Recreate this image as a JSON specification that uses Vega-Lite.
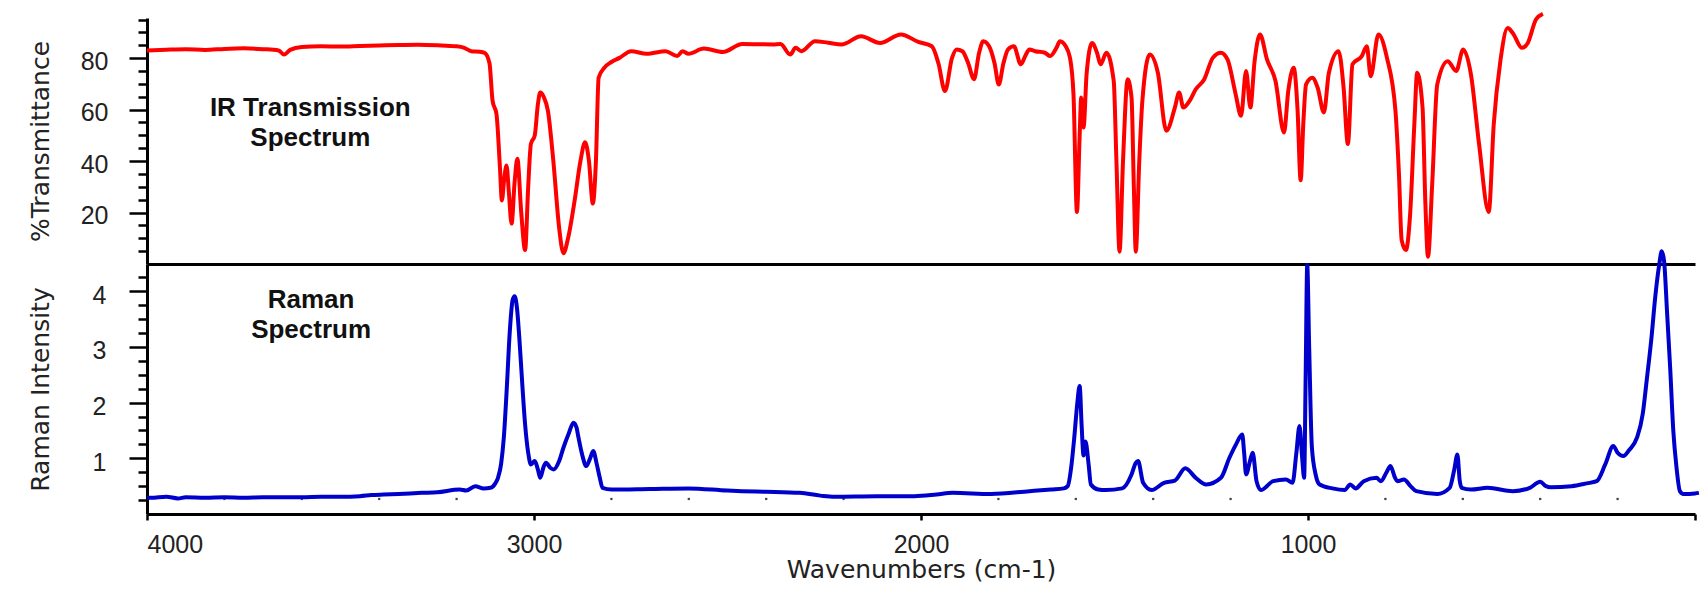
{
  "$schema": "https://vega.github.io/schema/vega-lite/v6.json",
  "background": "white",
  "padding": {"left": 28, "top": 11, "right": 5, "bottom": 5},
  "bounds": "flush",
  "spacing": 0,
  "config": {
    "view": {"stroke": null},
    "axis": {
      "domainColor": "black", "tickColor": "black", "domainWidth": 3, "tickWidth": 2.5,
      "labelFont": "Liberation Sans", "labelFontSize": 25, "labelColor": "#222",
      "titleFont": "DejaVu Sans", "titleFontSize": 25, "titleFontWeight": "normal", "titleColor": "#222",
      "grid": false
    }
  },
  "datasets": {
    "ir": [
      {"wn":4000,"v":83.0},{"wn":3950,"v":83.3},{"wn":3900,"v":83.5},{"wn":3850,"v":83.2},{"wn":3800,"v":83.6},
      {"wn":3750,"v":83.8},{"wn":3700,"v":83.5},{"wn":3660,"v":83.0},{"wn":3646,"v":81.4},{"wn":3630,"v":83.2},
      {"wn":3600,"v":84.3},{"wn":3550,"v":84.6},{"wn":3500,"v":84.5},{"wn":3450,"v":84.7},{"wn":3400,"v":84.9},
      {"wn":3350,"v":85.1},{"wn":3300,"v":85.2},{"wn":3250,"v":85.0},{"wn":3200,"v":84.6},{"wn":3180,"v":84.0},
      {"wn":3162,"v":82.7},{"wn":3140,"v":82.5},{"wn":3127,"v":82.0},{"wn":3115,"v":78},{"wn":3107,"v":63.4},
      {"wn":3097,"v":58.3},{"wn":3088,"v":37.5},{"wn":3083,"v":24.7},{"wn":3077,"v":33},{"wn":3071,"v":38.3},
      {"wn":3065,"v":28},{"wn":3058,"v":15.7},{"wn":3050,"v":32},{"wn":3043,"v":40.9},{"wn":3033,"v":20},
      {"wn":3023,"v":5.4},{"wn":3015,"v":30},{"wn":3008,"v":46.7},{"wn":2998,"v":50},{"wn":2990,"v":62},
      {"wn":2984,"v":66.6},{"wn":2975,"v":65},{"wn":2964,"v":59.5},{"wn":2950,"v":40},{"wn":2935,"v":14},
      {"wn":2924,"v":4.2},{"wn":2912,"v":10},{"wn":2895,"v":24.7},{"wn":2880,"v":40},{"wn":2868,"v":47.3},
      {"wn":2858,"v":40},{"wn":2848,"v":23.5},{"wn":2840,"v":40},{"wn":2833,"v":72.4},{"wn":2818,"v":76.3},
      {"wn":2800,"v":78.5},{"wn":2779,"v":80.1},{"wn":2749,"v":82.7},{"wn":2709,"v":81.7},{"wn":2660,"v":82.7},
      {"wn":2630,"v":80.8},{"wn":2616,"v":82.7},{"wn":2601,"v":81.7},{"wn":2561,"v":83.7},{"wn":2512,"v":82.4},
      {"wn":2462,"v":85.5},{"wn":2420,"v":85.4},{"wn":2383,"v":85.3},{"wn":2363,"v":85.5},{"wn":2338,"v":81.4},
      {"wn":2324,"v":84},{"wn":2309,"v":82.7},{"wn":2274,"v":86.6},{"wn":2240,"v":86},{"wn":2205,"v":85.3},
      {"wn":2155,"v":88.5},{"wn":2106,"v":85.9},{"wn":2052,"v":89.2},{"wn":2007,"v":86.3},{"wn":1972,"v":84.6},
      {"wn":1955,"v":78},{"wn":1938,"v":67.2},{"wn":1920,"v":80},{"wn":1908,"v":83.4},{"wn":1893,"v":82.7},
      {"wn":1878,"v":78},{"wn":1863,"v":71.8},{"wn":1850,"v":82},{"wn":1839,"v":86.6},{"wn":1824,"v":84.6},
      {"wn":1810,"v":78},{"wn":1799,"v":69.8},{"wn":1787,"v":78},{"wn":1775,"v":83.4},{"wn":1760,"v":84.6},
      {"wn":1742,"v":77.6},{"wn":1730,"v":81},{"wn":1720,"v":83.4},{"wn":1705,"v":82.7},{"wn":1680,"v":82.1},
      {"wn":1666,"v":80.8},{"wn":1650,"v":84},{"wn":1641,"v":86.6},{"wn":1626,"v":84.6},{"wn":1615,"v":80.1},
      {"wn":1606,"v":66},{"wn":1597,"v":20.2},{"wn":1590,"v":50},{"wn":1586,"v":64.7},{"wn":1580,"v":53},
      {"wn":1572,"v":74},{"wn":1558,"v":85.9},{"wn":1545,"v":82},{"wn":1536,"v":77.6},{"wn":1521,"v":82.1},
      {"wn":1502,"v":71.1},{"wn":1495,"v":40},{"wn":1487,"v":4.8},{"wn":1478,"v":40},{"wn":1466,"v":71.8},
      {"wn":1456,"v":64.7},{"wn":1450,"v":30},{"wn":1445,"v":4.8},{"wn":1436,"v":40},{"wn":1428,"v":63.4},
      {"wn":1409,"v":81.4},{"wn":1388,"v":74.3},{"wn":1366,"v":51.8},{"wn":1344,"v":60.8},{"wn":1333,"v":66.6},
      {"wn":1322,"v":60.8},{"wn":1306,"v":63.4},{"wn":1290,"v":67.9},{"wn":1268,"v":71.8},{"wn":1246,"v":80.1},
      {"wn":1225,"v":82.1},{"wn":1208,"v":79.5},{"wn":1187,"v":66},{"wn":1173,"v":57.6},{"wn":1160,"v":75},
      {"wn":1149,"v":60.8},{"wn":1138,"v":78.8},{"wn":1124,"v":89.2},{"wn":1106,"v":79.5},{"wn":1084,"v":71.1},
      {"wn":1062,"v":51.1},{"wn":1051,"v":67.2},{"wn":1037,"v":76.3},{"wn":1027,"v":60},{"wn":1019,"v":32.5},
      {"wn":1012,"v":55},{"wn":1005,"v":69.8},{"wn":989,"v":72.4},{"wn":975,"v":68.5},{"wn":959,"v":58.9},
      {"wn":946,"v":74.3},{"wn":921,"v":82.7},{"wn":908,"v":68.5},{"wn":897,"v":46.6},{"wn":885,"v":77.6},
      {"wn":861,"v":80.8},{"wn":848,"v":84.6},{"wn":838,"v":73},{"wn":818,"v":89.2},{"wn":796,"v":80.1},
      {"wn":774,"v":59.5},{"wn":765,"v":35},{"wn":758,"v":9.3},{"wn":747,"v":5.4},{"wn":736,"v":19.6},
      {"wn":725,"v":55},{"wn":718,"v":74.3},{"wn":704,"v":60.8},{"wn":697,"v":25},{"wn":690,"v":2.8},
      {"wn":679,"v":31.3},{"wn":666,"v":69.8},{"wn":639,"v":78.8},{"wn":617,"v":75},{"wn":599,"v":83.4},
      {"wn":579,"v":73.7},{"wn":558,"v":46.6},{"wn":533,"v":20.2},{"wn":520,"v":54.4},{"wn":503,"v":78.8},
      {"wn":484,"v":91.7},{"wn":471,"v":89.8},{"wn":447,"v":84},{"wn":432,"v":85.9},{"wn":411,"v":95},
      {"wn":393,"v":97.2}
    ],
    "raman": [
      {"wn":4000,"v":0.29},{"wn":3990,"v":0.29},{"wn":3950,"v":0.31},{"wn":3920,"v":0.28},{"wn":3900,"v":0.30},
      {"wn":3850,"v":0.29},{"wn":3800,"v":0.30},{"wn":3750,"v":0.29},{"wn":3700,"v":0.30},{"wn":3650,"v":0.30},
      {"wn":3600,"v":0.30},{"wn":3550,"v":0.31},{"wn":3500,"v":0.31},{"wn":3450,"v":0.32},{"wn":3420,"v":0.34},
      {"wn":3389,"v":0.35},{"wn":3350,"v":0.36},{"wn":3290,"v":0.38},{"wn":3250,"v":0.39},{"wn":3192,"v":0.44},
      {"wn":3175,"v":0.42},{"wn":3152,"v":0.50},{"wn":3130,"v":0.46},{"wn":3112,"v":0.47},{"wn":3100,"v":0.55},
      {"wn":3093,"v":0.65},{"wn":3085,"v":0.9},{"wn":3078,"v":1.37},{"wn":3070,"v":2.3},{"wn":3063,"v":3.23},
      {"wn":3055,"v":3.85},{"wn":3050,"v":3.91},{"wn":3044,"v":3.7},{"wn":3038,"v":3.17},{"wn":3030,"v":2.3},
      {"wn":3023,"v":1.61},{"wn":3015,"v":1.1},{"wn":3008,"v":0.89},{"wn":2998,"v":0.95},{"wn":2990,"v":0.8},
      {"wn":2984,"v":0.65},{"wn":2975,"v":0.85},{"wn":2969,"v":0.92},{"wn":2958,"v":0.83},{"wn":2949,"v":0.80},
      {"wn":2935,"v":0.95},{"wn":2924,"v":1.19},{"wn":2910,"v":1.45},{"wn":2898,"v":1.64},{"wn":2890,"v":1.55},
      {"wn":2885,"v":1.37},{"wn":2875,"v":1.05},{"wn":2865,"v":0.86},{"wn":2856,"v":0.98},{"wn":2847,"v":1.13},
      {"wn":2838,"v":0.9},{"wn":2830,"v":0.65},{"wn":2823,"v":0.47},{"wn":2799,"v":0.44},{"wn":2700,"v":0.45},
      {"wn":2601,"v":0.46},{"wn":2500,"v":0.42},{"wn":2462,"v":0.41},{"wn":2400,"v":0.40},{"wn":2313,"v":0.38},
      {"wn":2260,"v":0.33},{"wn":2224,"v":0.31},{"wn":2115,"v":0.32},{"wn":2017,"v":0.32},{"wn":1960,"v":0.35},
      {"wn":1918,"v":0.38},{"wn":1819,"v":0.36},{"wn":1720,"v":0.41},{"wn":1664,"v":0.44},{"wn":1631,"v":0.46},
      {"wn":1621,"v":0.50},{"wn":1611,"v":0.89},{"wn":1604,"v":1.37},{"wn":1596,"v":2.0},{"wn":1590,"v":2.30},
      {"wn":1585,"v":1.6},{"wn":1580,"v":1.05},{"wn":1575,"v":1.3},{"wn":1567,"v":0.9},{"wn":1561,"v":0.53},
      {"wn":1542,"v":0.44},{"wn":1523,"v":0.43},{"wn":1480,"v":0.46},{"wn":1456,"v":0.71},{"wn":1445,"v":0.92},
      {"wn":1439,"v":0.95},{"wn":1426,"v":0.56},{"wn":1404,"v":0.43},{"wn":1372,"v":0.56},{"wn":1344,"v":0.60},
      {"wn":1317,"v":0.82},{"wn":1290,"v":0.65},{"wn":1263,"v":0.53},{"wn":1225,"v":0.65},{"wn":1203,"v":1.01},
      {"wn":1186,"v":1.25},{"wn":1170,"v":1.43},{"wn":1165,"v":1.1},{"wn":1160,"v":0.71},{"wn":1150,"v":0.95},
      {"wn":1143,"v":1.10},{"wn":1133,"v":0.59},{"wn":1122,"v":0.43},{"wn":1090,"v":0.59},{"wn":1057,"v":0.62},
      {"wn":1040,"v":0.56},{"wn":1030,"v":1.1},{"wn":1022,"v":1.58},{"wn":1015,"v":1.0},{"wn":1010,"v":0.65},
      {"wn":1006,"v":2.5},{"wn":1002,"v":4.47},{"wn":997,"v":3.0},{"wn":990,"v":1.2},{"wn":980,"v":0.7},
      {"wn":970,"v":0.53},{"wn":937,"v":0.46},{"wn":905,"v":0.43},{"wn":891,"v":0.53},{"wn":877,"v":0.46},
      {"wn":856,"v":0.59},{"wn":823,"v":0.65},{"wn":812,"v":0.59},{"wn":797,"v":0.75},{"wn":787,"v":0.86},
      {"wn":775,"v":0.65},{"wn":769,"v":0.59},{"wn":752,"v":0.62},{"wn":735,"v":0.5},{"wn":720,"v":0.41},
      {"wn":666,"v":0.36},{"wn":634,"v":0.47},{"wn":622,"v":0.8},{"wn":614,"v":1.07},{"wn":608,"v":0.6},
      {"wn":603,"v":0.47},{"wn":579,"v":0.44},{"wn":536,"v":0.47},{"wn":471,"v":0.41},{"wn":427,"v":0.47},
      {"wn":400,"v":0.58},{"wn":385,"v":0.5},{"wn":373,"v":0.48},{"wn":319,"v":0.50},{"wn":280,"v":0.55},
      {"wn":254,"v":0.59},{"wn":232,"v":0.89},{"wn":211,"v":1.22},{"wn":200,"v":1.1},{"wn":185,"v":1.04},
      {"wn":170,"v":1.15},{"wn":150,"v":1.37},{"wn":135,"v":1.8},{"wn":125,"v":2.39},{"wn":112,"v":3.2},
      {"wn":103,"v":3.88},{"wn":92,"v":4.5},{"wn":86,"v":4.72},{"wn":80,"v":4.55},{"wn":72,"v":3.6},
      {"wn":64,"v":2.6},{"wn":56,"v":1.49},{"wn":48,"v":0.85},{"wn":39,"v":0.41},{"wn":30,"v":0.36},
      {"wn":0,"v":0.37},{"wn":-10,"v":0.38}
    ],
    "dots": [
      {"wn":3800,"v":0.27},{"wn":3600,"v":0.27},{"wn":3400,"v":0.27},{"wn":3200,"v":0.27},
      {"wn":2800,"v":0.27},{"wn":2600,"v":0.27},{"wn":2400,"v":0.27},{"wn":2200,"v":0.27},
      {"wn":1800,"v":0.27},{"wn":1600,"v":0.27},{"wn":1400,"v":0.27},{"wn":1200,"v":0.27},
      {"wn":800,"v":0.27},{"wn":600,"v":0.27},{"wn":400,"v":0.27},{"wn":200,"v":0.27}
    ],
    "irlabel": [{"wn":3578,"v":60.7,"label":"IR Transmission\nSpectrum"}],
    "ramanlabel": [{"wn":3576,"v":3.84,"label":"Raman\nSpectrum"}]
  },
  "vconcat": [
    {
      "width": 1548,
      "height": 246,
      "encoding": {
        "x": {"field": "wn", "type": "quantitative",
              "scale": {"domain": [0, 4000], "reverse": true, "nice": false, "zero": false},
              "axis": {"title": null, "labels": false, "ticks": false, "domain": true}},
        "y": {"field": "v", "type": "quantitative",
              "scale": {"domain": [0, 95.6], "nice": false, "zero": false},
              "axis": {
                "title": "%Transmittance",
                "values": [5,10,15,20,25,30,35,40,45,50,55,60,65,70,75,80,85,90,95],
                "labelExpr": "datum.value % 20 === 0 ? datum.label : ''",
                "tickSize": {"condition": {"test": "datum.value % 20 === 0", "value": 18}, "value": 9},
                "labelPadding": 21,
                "labelOffset": 3,
                "titlePadding": 27
              }}
      },
      "layer": [
        {"data": {"name": "ir"}, "mark": {"type": "line", "color": "#ff0000", "strokeWidth": 4, "strokeJoin": "round", "interpolate": "monotone"}},
        {"data": {"name": "irlabel"},
         "mark": {"type": "text", "font": "Liberation Sans", "fontWeight": "bold", "fontSize": 26, "lineBreak": "\n", "lineHeight": 30, "align": "center", "baseline": "middle", "color": "#111"},
         "encoding": {"text": {"field": "label"}}}
      ]
    },
    {
      "width": 1548,
      "height": 250,
      "encoding": {
        "x": {"field": "wn", "type": "quantitative",
              "scale": {"domain": [0, 4000], "reverse": true, "nice": false, "zero": false},
              "axis": {"title": "Wavenumbers (cm-1)", "values": [4000, 3000, 2000, 1000, 0], "format": "d",
                       "labelExpr": "datum.value === 0 ? '' : datum.label",
                       "tickSize": 6, "labelPadding": 12, "titlePadding": 0}},
        "y": {"field": "v", "type": "quantitative",
              "scale": {"domain": [0, 4.49], "nice": false, "zero": false},
              "axis": {
                "title": "Raman Intensity",
                "values": [0.25,0.5,0.75,1,1.25,1.5,1.75,2,2.25,2.5,2.75,3,3.25,3.5,3.75,4,4.25],
                "labelExpr": "datum.value % 1 === 0 ? format(datum.value, 'd') : ''",
                "tickSize": {"condition": {"test": "datum.value % 1 === 0", "value": 18}, "value": 9},
                "labelPadding": 23,
                "labelOffset": 4,
                "titlePadding": 39
              }}
      },
      "layer": [
        {"data": {"name": "dots"}, "mark": {"type": "square", "size": 5, "color": "#444", "opacity": 1}},
        {"data": {"name": "raman"}, "mark": {"type": "line", "color": "#0000cc", "strokeWidth": 4, "strokeJoin": "round", "interpolate": "monotone"}},
        {"data": {"name": "ramanlabel"},
         "mark": {"type": "text", "font": "Liberation Sans", "fontWeight": "bold", "fontSize": 26, "lineBreak": "\n", "lineHeight": 30, "align": "center", "baseline": "middle", "color": "#111"},
         "encoding": {"text": {"field": "label"}}}
      ]
    }
  ]
}
